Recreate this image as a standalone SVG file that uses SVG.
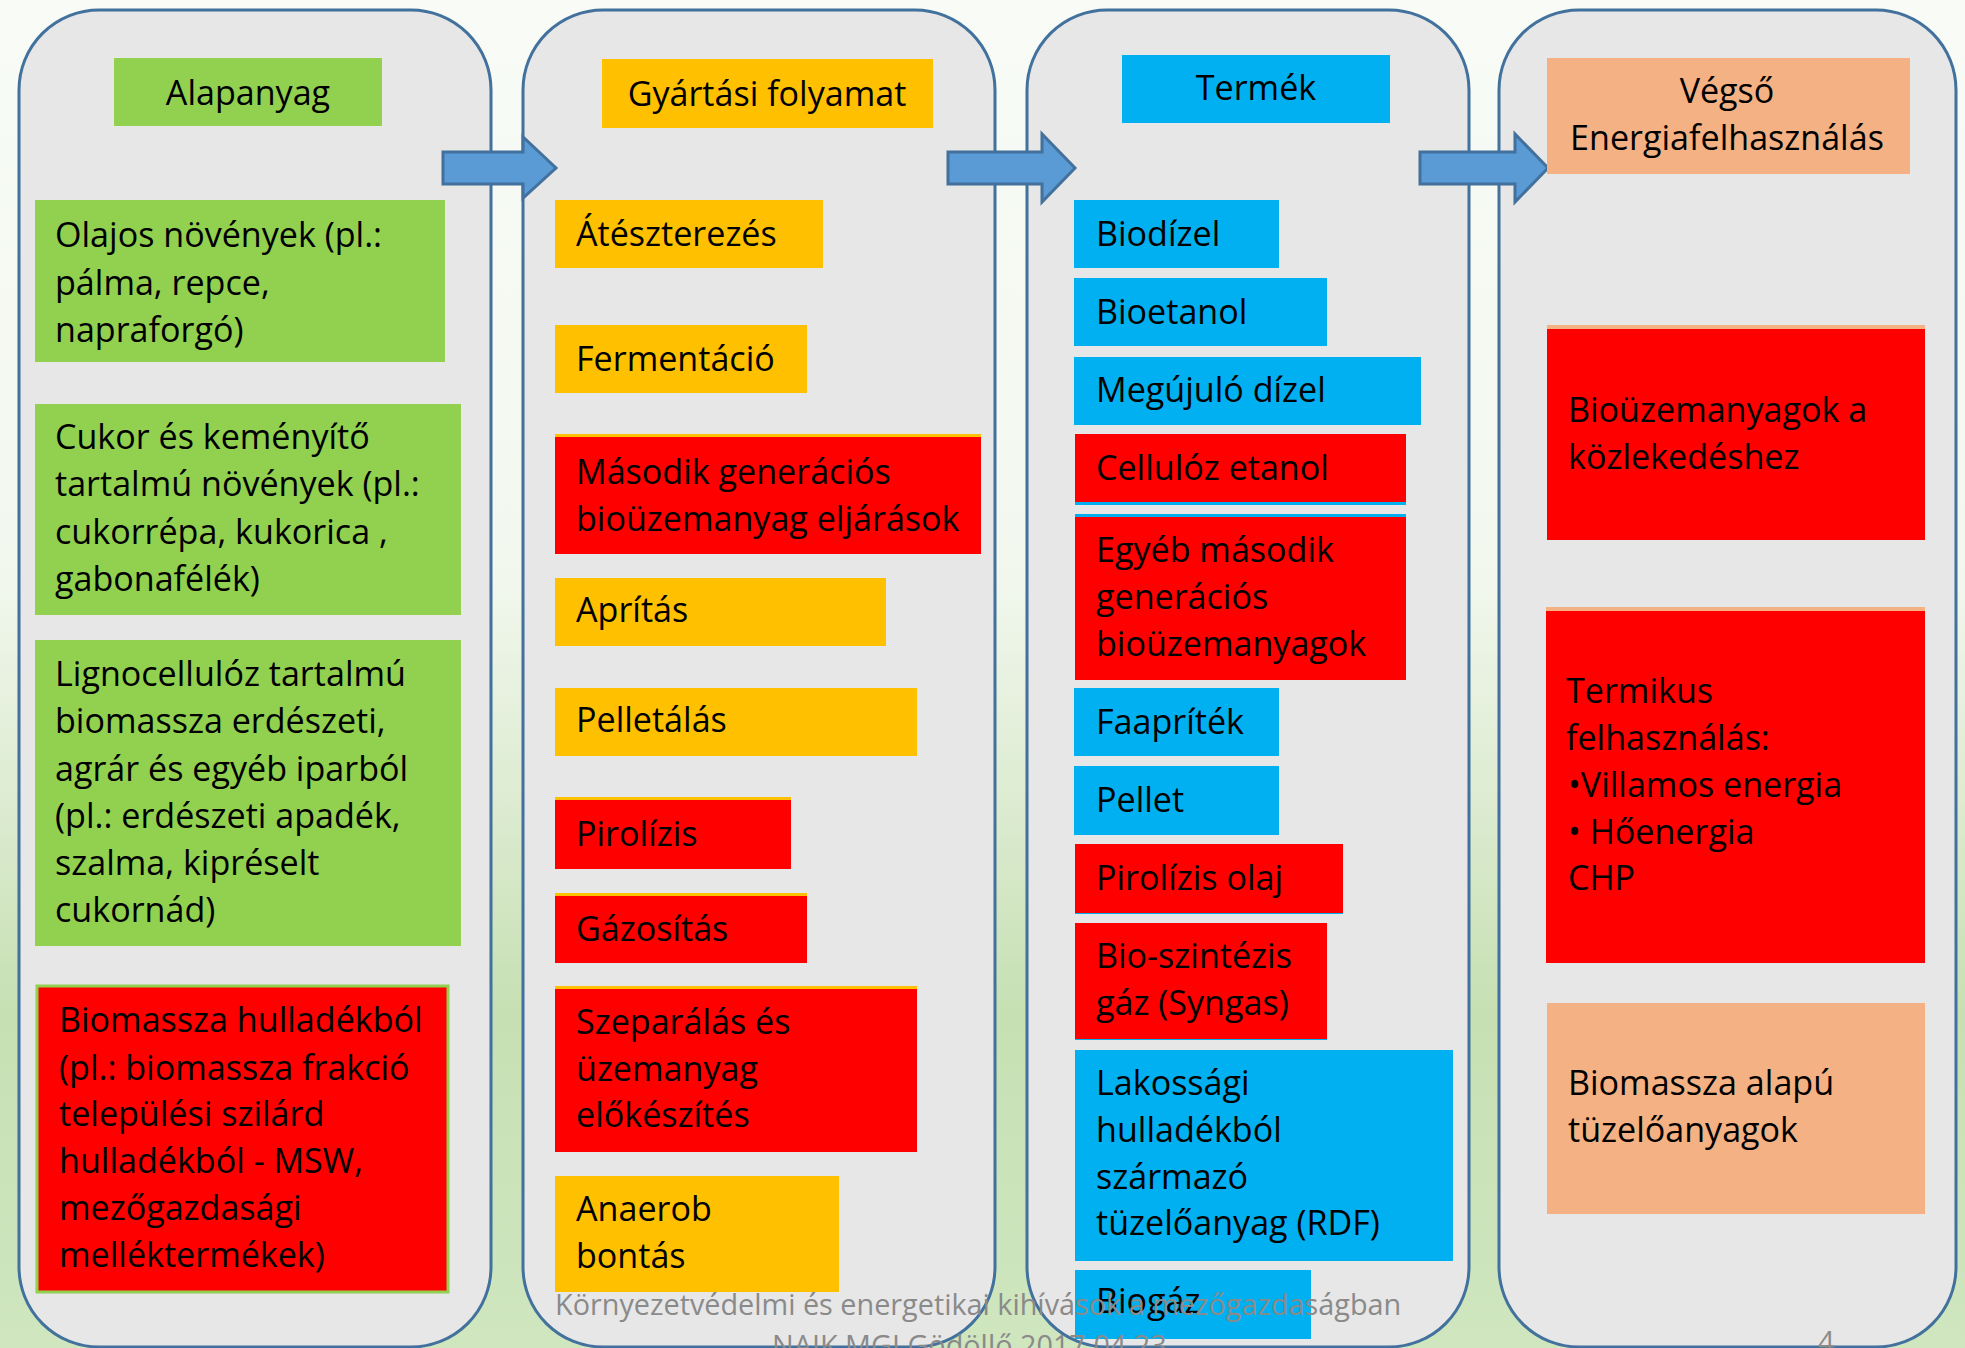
<svg xmlns="http://www.w3.org/2000/svg" width="1965" height="1348" viewBox="0 0 1965 1348">
<defs>
<linearGradient id="bg" x1="0" y1="0" x2="0" y2="1">
<stop offset="0" stop-color="#f8fbf6"/>
<stop offset="0.42" stop-color="#f3f8ef"/>
<stop offset="0.6" stop-color="#dcebd0"/>
<stop offset="0.75" stop-color="#c6e0b3"/>
<stop offset="1" stop-color="#cfe6bf"/>
</linearGradient>
<style>
.panel{fill:#e7e7e7;stroke:#41719c;stroke-width:3}
.arrow{fill:#5b9bd5;stroke:#41719c;stroke-width:3;stroke-linejoin:miter}
.g{fill:#92d050}
.o{fill:#ffc000}
.r{fill:#ff0000}
.b{fill:#00b0f0}
.s{fill:#f4b183}
text{font-family:"Open Sans","Liberation Sans",sans-serif;font-size:34.1px;fill:#000}
.c{text-anchor:middle}
.foot{fill:#8a8a8a;font-size:28.8px}
</style>
</defs>
<rect x="0" y="0" width="1965" height="1348" fill="url(#bg)"/>

<g id="panels">
<rect id="panel-alapanyag" class="panel" x="19" y="10" width="472" height="1337" rx="80" ry="80"/>
<rect id="panel-gyartas" class="panel" x="523" y="10" width="472" height="1337" rx="80" ry="80"/>
<rect id="panel-termek" class="panel" x="1027" y="10" width="442" height="1337" rx="80" ry="80"/>
<rect id="panel-vegso" class="panel" x="1499" y="10" width="457" height="1337" rx="80" ry="80"/>
</g>

<g id="connectors">
<polygon class="arrow" points="443,152 523,152 523,137 556,168 523,198 523,184 443,184"/>
<polygon class="arrow" points="948,152 1042,152 1042,134 1075,168 1042,202 1042,184 948,184"/>
<polygon class="arrow" points="1420,152 1515,152 1515,134 1548,168 1515,202 1515,184 1420,184"/>
</g>

<!-- Column 1 -->
<g id="n-alapanyag"><rect class="g" x="114" y="58" width="268" height="68"/><text class="c" x="248" y="105">Alapanyag</text></g>
<g id="n-olajos"><rect class="g" x="35" y="200" width="410" height="162"/>
<text x="55" y="247">Olajos növények (pl.:</text><text x="55" y="295">pálma, repce,</text><text x="55" y="342">napraforgó)</text></g>
<g id="n-cukor"><rect class="g" x="35" y="404" width="426" height="211"/>
<text x="55" y="449">Cukor és keményítő</text><text x="55" y="496">tartalmú növények (pl.:</text><text x="55" y="544">cukorrépa, kukorica ,</text><text x="55" y="591">gabonafélék)</text></g>
<g id="n-ligno"><rect class="g" x="35" y="640" width="426" height="306"/>
<text x="55" y="686">Lignocellulóz tartalmú</text><text x="55" y="733">biomassza erdészeti,</text><text x="55" y="781">agrár és egyéb iparból</text><text x="55" y="828">(pl.: erdészeti apadék,</text><text x="55" y="875">szalma, kipréselt</text><text x="55" y="922">cukornád)</text></g>
<g id="n-hulladek"><rect class="r" x="37" y="986" width="411" height="306" stroke="#92d050" stroke-width="3"/>
<text x="59" y="1032">Biomassza hulladékból</text><text x="59" y="1080">(pl.: biomassza frakció</text><text x="59" y="1126">települési szilárd</text><text x="59" y="1173">hulladékból - MSW,</text><text x="59" y="1220">mezőgazdasági</text><text x="59" y="1267">melléktermékek)</text></g>

<!-- Column 2 -->
<g id="n-gyartasi"><rect class="o" x="602" y="59" width="331" height="69"/><text class="c" x="767" y="106">Gyártási folyamat</text></g>
<g id="n-ateszterezes"><rect class="o" x="555" y="200" width="268" height="68"/><text x="576" y="246">Átészterezés</text></g>
<g id="n-fermentacio"><rect class="o" x="555" y="325" width="252" height="68"/><text x="576" y="371">Fermentáció</text></g>
<g id="n-masodik"><rect class="o" x="555" y="434" width="426" height="120"/><rect class="r" x="555" y="437" width="426" height="117"/>
<text x="576" y="484">Második generációs</text><text x="576" y="531">bioüzemanyag eljárások</text></g>
<g id="n-apritas"><rect class="o" x="555" y="578" width="331" height="68"/><text x="576" y="622">Aprítás</text></g>
<g id="n-pelletalas"><rect class="o" x="555" y="688" width="362" height="68"/><text x="576" y="732">Pelletálás</text></g>
<g id="n-pirolizis"><rect class="o" x="555" y="797" width="236" height="72"/><rect class="r" x="555" y="800" width="236" height="69"/><text x="576" y="846">Pirolízis</text></g>
<g id="n-gazositas"><rect class="o" x="555" y="893" width="252" height="70"/><rect class="r" x="555" y="896" width="252" height="67"/><text x="576" y="941">Gázosítás</text></g>
<g id="n-szeparalas"><rect class="o" x="555" y="986" width="362" height="166"/><rect class="r" x="555" y="989" width="362" height="163"/>
<text x="576" y="1034">Szeparálás és</text><text x="576" y="1081">üzemanyag</text><text x="576" y="1127">előkészítés</text></g>
<g id="n-anaerob"><rect class="o" x="555" y="1176" width="284" height="116"/><text x="576" y="1221">Anaerob</text><text x="576" y="1268">bontás</text></g>

<!-- Column 3 -->
<g id="n-termek"><rect class="b" x="1122" y="55" width="268" height="68"/><text class="c" x="1256" y="100">Termék</text></g>
<g id="n-biodizel"><rect class="b" x="1074" y="200" width="205" height="68"/><text x="1096" y="246">Biodízel</text></g>
<g id="n-bioetanol"><rect class="b" x="1074" y="278" width="253" height="68"/><text x="1096" y="324">Bioetanol</text></g>
<g id="n-megujulo"><rect class="b" x="1074" y="357" width="347" height="68"/><text x="1096" y="402">Megújuló dízel</text></g>
<g id="n-cellulоz"><rect class="b" x="1075" y="434" width="331" height="71"/><rect class="r" x="1075" y="434" width="331" height="68"/><text x="1096" y="480">Cellulóz etanol</text></g>
<g id="n-egyeb"><rect class="b" x="1075" y="514" width="331" height="166"/><rect class="r" x="1075" y="517" width="331" height="163"/>
<text x="1096" y="562">Egyéb második</text><text x="1096" y="609">generációs</text><text x="1096" y="656">bioüzemanyagok</text></g>
<g id="n-faapritek"><rect class="b" x="1074" y="688" width="205" height="68"/><text x="1096" y="734">Faapríték</text></g>
<g id="n-pellet"><rect class="b" x="1074" y="766" width="205" height="69"/><text x="1096" y="812">Pellet</text></g>
<g id="n-pirolizis-olaj"><rect class="b" x="1075" y="844" width="268" height="70"/><rect class="r" x="1075" y="844" width="268" height="69"/><text x="1096" y="890">Pirolízis olaj</text></g>
<g id="n-bioszintezis"><rect class="b" x="1075" y="923" width="252" height="117"/><rect class="r" x="1075" y="923" width="252" height="116"/>
<text x="1096" y="968">Bio-szintézis</text><text x="1096" y="1015">gáz (Syngas)</text></g>
<g id="n-lakossagi"><rect class="b" x="1075" y="1050" width="378" height="211"/>
<text x="1096" y="1095">Lakossági</text><text x="1096" y="1142">hulladékból</text><text x="1096" y="1189">származó</text><text x="1096" y="1235">tüzelőanyag (RDF)</text></g>
<g id="n-biogaz"><rect class="b" x="1075" y="1270" width="236" height="69"/><text x="1096" y="1313">Biogáz</text></g>

<!-- Column 4 -->
<g id="n-vegso"><rect class="s" x="1547" y="58" width="363" height="116"/><text class="c" x="1727" y="103">Végső</text><text class="c" x="1727" y="150">Energiafelhasználás</text></g>
<g id="n-kozlekedes"><rect class="s" x="1547" y="325" width="378" height="215"/><rect class="r" x="1547" y="329" width="378" height="211"/>
<text x="1568" y="422">Bioüzemanyagok a</text><text x="1568" y="469">közlekedéshez</text></g>
<g id="n-termikus"><rect class="s" x="1546" y="607" width="379" height="356"/><rect class="r" x="1546" y="611" width="379" height="352"/>
<text x="1566" y="703">Termikus</text><text x="1566" y="750">felhasználás:</text><text x="1568" y="797">•Villamos energia</text><text x="1568" y="844">• Hőenergia</text><text x="1568" y="890">CHP</text></g>
<g id="n-tuzeloanyag"><rect class="s" x="1547" y="1003" width="378" height="211"/>
<text x="1568" y="1095">Biomassza alapú</text><text x="1568" y="1142">tüzelőanyagok</text></g>

<g id="footer">
<text class="foot" x="555" y="1315">Környezetvédelmi és energetikai kihívások a mezőgazdaságban</text>
<text class="foot" x="772" y="1356">NAIK MGI Gödöllő 2017.04.23.</text>
<text class="foot" x="1818" y="1352">4</text>
</g>
</svg>
